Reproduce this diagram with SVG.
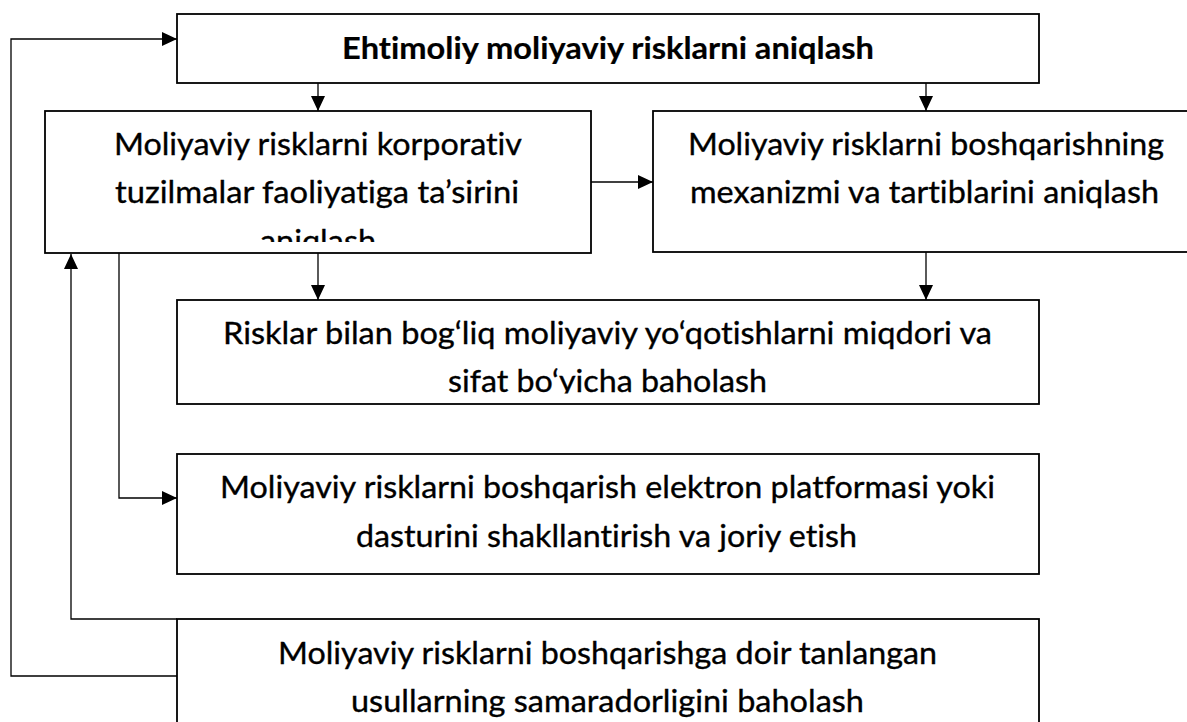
<svg xmlns="http://www.w3.org/2000/svg" width="1187" height="722" viewBox="0 0 1187 722">
<style>
.box{fill:#fff;stroke:#000;stroke-width:1.8}
.t{font-family:Lato,"Open Sans","Liberation Sans",sans-serif;font-size:31px;fill:#000;stroke:#000;stroke-width:0.35;text-anchor:middle;font-variant-ligatures:none}
.b{font-weight:bold;stroke-width:0.2}
.c{fill:none;stroke:#000;stroke-width:1.3}
</style>
<defs>
<marker id="ah" markerUnits="userSpaceOnUse" markerWidth="15" markerHeight="14" refX="15" refY="7" orient="auto">
<path d="M0,0 L15,7 L0,14 z" fill="#000"/>
</marker>
<clipPath id="clipA"><rect x="45" y="111" width="546" height="131"/></clipPath>
<clipPath id="clipC"><rect x="177" y="300" width="862" height="93.5"/></clipPath>
</defs>
<rect width="1187" height="722" fill="#fff"/>
<g id="connectors">
<path class="c" d="M318,83 V111" marker-end="url(#ah)"/>
<path class="c" d="M926,83 V111" marker-end="url(#ah)"/>
<path class="c" d="M591,182 H653" marker-end="url(#ah)"/>
<path class="c" d="M318,253 V300" marker-end="url(#ah)"/>
<path class="c" d="M926,252 V300" marker-end="url(#ah)"/>
<path class="c" d="M119,253 V498 H177" marker-end="url(#ah)"/>
<path class="c" d="M177,619 H71 V254" marker-end="url(#ah)"/>
<path class="c" d="M177,676 H11 V39 H177" marker-end="url(#ah)"/>
</g>
<g id="node-top">
<rect class="box" x="177" y="14" width="862" height="69"/>
<text class="t b" x="608" y="59" textLength="532" lengthAdjust="spacingAndGlyphs">Ehtimoliy moliyaviy risklarni aniqlash</text>
</g>
<g id="node-a">
<rect class="box" x="45" y="111" width="546" height="142"/>
<g clip-path="url(#clipA)">
<text class="t" x="318" y="155" textLength="408" lengthAdjust="spacingAndGlyphs">Moliyaviy risklarni korporativ</text>
<text class="t" x="317" y="203" textLength="404" lengthAdjust="spacingAndGlyphs">tuzilmalar faoliyatiga ta’sirini</text>
<text class="t" x="318" y="252" textLength="116" lengthAdjust="spacingAndGlyphs">aniqlash</text>
</g>
</g>
<g id="node-b">
<rect class="box" x="653" y="111" width="546" height="141"/>
<text class="t" x="926" y="155" textLength="476" lengthAdjust="spacingAndGlyphs">Moliyaviy risklarni boshqarishning</text>
<text class="t" x="924.5" y="203" textLength="469" lengthAdjust="spacingAndGlyphs">mexanizmi va tartiblarini aniqlash</text>
</g>
<g id="node-c">
<rect class="box" x="177" y="300" width="862" height="104"/>
<g clip-path="url(#clipC)">
<text class="t" x="607.5" y="344" textLength="769" lengthAdjust="spacingAndGlyphs">Risklar bilan bog‘liq moliyaviy yo‘qotishlarni miqdori va</text>
<text class="t" x="607.5" y="392" textLength="319" lengthAdjust="spacingAndGlyphs">sifat bo‘yicha baholash</text>
</g>
</g>
<g id="node-d">
<rect class="box" x="177" y="454" width="862" height="120"/>
<text class="t" x="607.5" y="498" textLength="775" lengthAdjust="spacingAndGlyphs">Moliyaviy risklarni boshqarish elektron platformasi yoki</text>
<text class="t" x="606.5" y="547" textLength="501" lengthAdjust="spacingAndGlyphs">dasturini shakllantirish va joriy etish</text>
</g>
<g id="node-e">
<rect class="box" x="177" y="619" width="862" height="120"/>
<text class="t" x="607.5" y="664" textLength="659" lengthAdjust="spacingAndGlyphs">Moliyaviy risklarni boshqarishga doir tanlangan</text>
<text class="t" x="607.5" y="712" textLength="513" lengthAdjust="spacingAndGlyphs">usullarning samaradorligini baholash</text>
</g>
</svg>
